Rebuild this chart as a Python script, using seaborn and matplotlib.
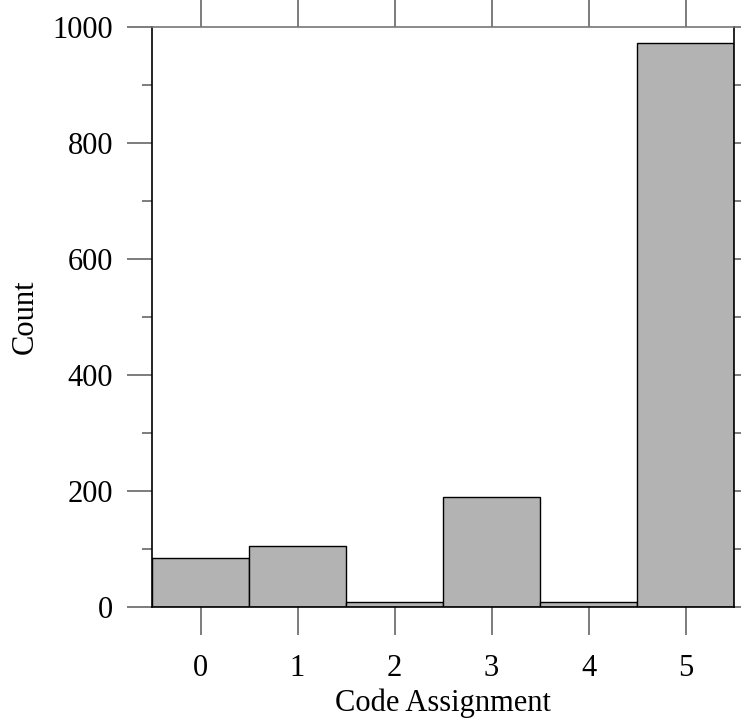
import matplotlib
matplotlib.use("Agg")
import matplotlib.pyplot as plt
from matplotlib.ticker import MultipleLocator
import seaborn as sns
import pandas as pd

codes = ["0", "1", "2", "3", "4", "5"]
counts = [85, 106, 9, 189, 9, 973]

sns.set_style("white")
plt.rcParams["font.family"] = ["Liberation Serif", "DejaVu Serif"]
plt.rcParams["text.color"] = "black"
plt.rcParams["axes.labelcolor"] = "black"

df = pd.DataFrame({"code": codes, "count": counts})

fig = plt.figure(figsize=(7.41, 7.19), dpi=100)
ax = fig.add_axes([152 / 741, 1 - 607 / 719, (734 - 152) / 741, (607 - 27) / 719])

sns.barplot(data=df, x="code", y="count", color="#b3b3b3", saturation=1,
            width=1.0, edgecolor="black", linewidth=1.0, ax=ax)

ax.set_xlim(-0.5, 5.5)
ax.set_ylim(0, 1000)
ax.yaxis.set_major_locator(MultipleLocator(200))
ax.yaxis.set_minor_locator(MultipleLocator(100))

ax.set_xlabel("Code Assignment", fontsize=22, labelpad=4)
ax.set_ylabel("Count", fontsize=22, labelpad=9)

for side in ["left", "bottom", "right"]:
    ax.spines[side].set_color("black")
    ax.spines[side].set_linewidth(1.2)
ax.spines["top"].set_color("#777777")
ax.spines["top"].set_linewidth(1.2)

ax.tick_params(axis="x", which="major", direction="out", length=20, width=1.2,
               color="#666666", labelcolor="black", top=True, bottom=True,
               labelsize=22, pad=14)
ax.tick_params(axis="y", which="major", direction="out", length=18, width=1.2,
               color="#666666", labelcolor="black", left=True, labelsize=22, pad=10)
ax.tick_params(axis="y", which="minor", direction="out", length=7, width=1.2,
               color="#666666", left=True)
ax.tick_params(axis="y", which="both", right=True)

# shorter ticks on the right edge
for t in ax.yaxis.get_major_ticks() + ax.yaxis.get_minor_ticks():
    t.tick2line.set_markersize(6)

fig.savefig("out.png", dpi=100)
